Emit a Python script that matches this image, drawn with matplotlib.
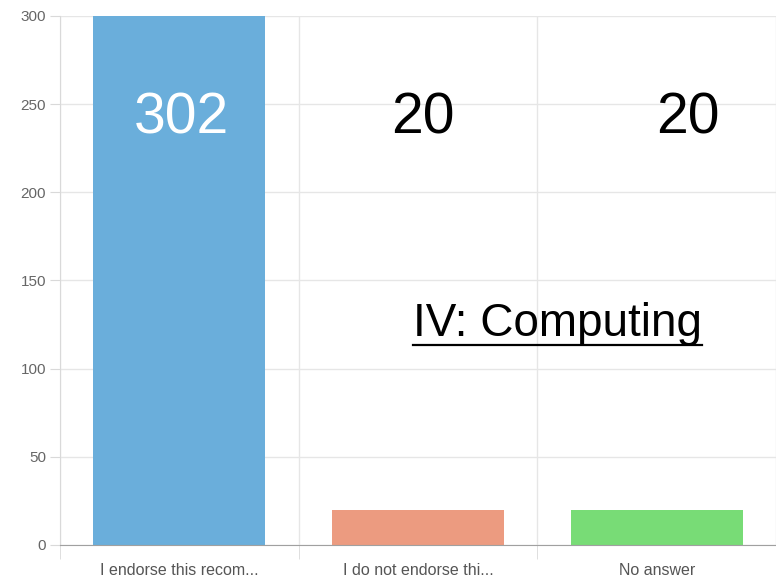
import numpy as np
import matplotlib.pyplot as plt
from matplotlib.lines import Line2D

plt.rcParams['font.family'] = ['Liberation Sans', 'DejaVu Sans']

# data
categories = ["I endorse this recom...", "I do not endorse thi...", "No answer"]
counts = [302, 20, 20]
bar_colors = ['#6aaedb', '#ec9b80', '#78dc76']
y_ticks = [0, 50, 100, 150, 200, 250, 300]
title_text = "IV: Computing"

fig = plt.figure(figsize=(7.76, 5.77), dpi=100)
ax = fig.add_axes([0.0773, 0.0555, 0.9227, 0.9168])

x = np.arange(len(categories))
ax.bar(x, counts, width=0.72, color=bar_colors, zorder=2)

ax.set_xlim(-0.5, len(categories) - 0.5)
ax.set_ylim(0, 300)
ax.set_yticks(y_ticks)
ax.set_xticks(x)
ax.set_xticklabels(categories)
ax.set_xticks(np.arange(-0.5, len(categories), 1), minor=True)

ax.grid(axis='y', color='#e6e6e6', linewidth=1, zorder=0)
ax.grid(axis='x', which='minor', color='#e6e6e6', linewidth=1, zorder=0)
ax.grid(axis='x', which='major', visible=False)

for s in ['top', 'right']:
    ax.spines[s].set_visible(False)
ax.spines['left'].set_color('#d9d9d9')
ax.spines['bottom'].set_color('#a0a0a0')

ax.tick_params(axis='y', length=7, color='#d9d9d9', labelsize=11, labelcolor='#666666', pad=3)
ax.tick_params(axis='x', which='major', length=0, labelsize=11.5, labelcolor='#555555', pad=13)
ax.tick_params(axis='x', which='minor', length=10, color='#d9d9d9')

# value labels placed on the chart
label_offsets = [0.01, 0.02, 0.13]
label_colors = ['white', 'black', 'black']
for xi, v, dx, c in zip(x, counts, label_offsets, label_colors):
    ax.text(xi + dx, 242, str(v), ha='center', va='center', fontsize=41, color=c, zorder=3)

t = ax.text(0.695, 0.418, title_text, transform=ax.transAxes, ha='center', va='center',
            fontsize=33, color='black', zorder=3)

# underline for the title
fig.canvas.draw()
bb = t.get_window_extent()
W, H = fig.bbox.width, fig.bbox.height
uy = (bb.y0 + 1) / H
fig.add_artist(Line2D([bb.x0 / W, bb.x1 / W], [uy, uy], color='black', linewidth=1.6))

fig.savefig('out.png', dpi=100)
